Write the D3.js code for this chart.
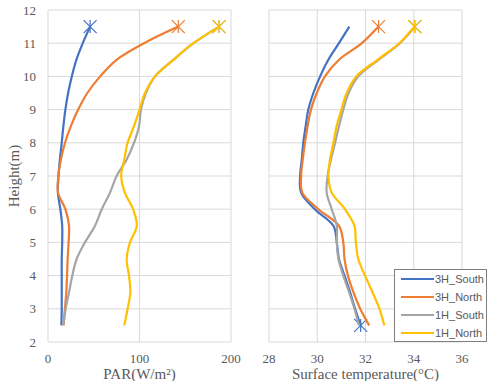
<!DOCTYPE html>
<html>
<head>
<meta charset="utf-8">
<script src="https://cdn.jsdelivr.net/npm/d3@7"></script>
<style>
body{margin:0;background:#fff;}
</style>
</head>
<body>
<script>
var w=488;
var h=381;

// heights (m)
var heights=[2.5,3,3.5,4,4.5,5,5.5,6,6.5,7,7.5,8,8.5,9,9.5,10,10.5,11,11.5];
var seriesNames=["3H_South","3H_North","1H_South","1H_North"];
var colors=["#4472C4","#ED7D31","#A5A5A5","#FFC000"];

// PAR (W/m2)
var parSouth3H=[14.6,15,15,15,15,15.5,15.5,13.5,10.8,11.5,13,15,16.8,19,22,26,31,38,46];
var parNorth3H=[17,18.5,20,20.8,21.5,22.5,23,19,11,11.3,14.2,18.6,25,33,43,57,75,105,142.4];
var parSouth1H=[16.8,19.3,23,26.6,31.3,40.4,51.4,58.7,67.8,75,86,94,99.5,101.6,107,117,137,159,187];
var parNorth1H=[83.4,87,90,88.5,86,89.6,97,93,84,80,83.4,87,94,100,106,117,137,159,187];

// surface temperature (C)
var tSouth3H=[31.8,31.57,31.36,31.13,30.9,30.81,30.67,29.9,29.33,29.29,29.36,29.42,29.52,29.63,29.84,30.12,30.46,30.9,31.33];
var tNorth3H=[32.15,31.78,31.5,31.27,31.13,31.08,30.9,30.05,29.38,29.33,29.4,29.49,29.6,29.74,29.98,30.32,30.9,31.85,32.54];
var tSouth1H=[31.73,31.54,31.32,31.08,30.88,30.81,30.81,30.6,30.39,30.43,30.57,30.74,30.9,31.08,31.3,31.7,32.54,33.43,34.05];
var tNorth1H=[32.78,32.58,32.29,31.98,31.7,31.6,31.54,31.15,30.6,30.46,30.53,30.67,30.8,31.0,31.22,31.62,32.5,33.4,34.03];

// height where each series carries its star marker
var parMarkers=[11.5,11.5,11.5,11.5];
var tMarkers=[2.5,11.5,11.5,11.5];

var yTicks=[2,3,4,5,6,7,8,9,10,11,12];
var parTicks=[0,100,200];
var tTicks=[28,30,32,34,36];

var svg=d3.select("body")
          .append("svg")
          .attr("width",w)
          .attr("height",h);

var y=d3.scaleLinear().domain([2,12]).range([342,10]);

function panel(x0,x1,domain,ticks,data,markers,title,showY){
  var x=d3.scaleLinear().domain(domain).range([x0,x1]);
  var g=svg.append("g");

  //grid
  g.selectAll(".hg").data(yTicks).enter().append("line")
    .attr("x1",x0).attr("x2",x1)
    .attr("y1",d=>y(d)).attr("y2",d=>y(d))
    .attr("stroke","#d9d9d9").attr("stroke-width",1);
  g.selectAll(".vg").data(ticks).enter().append("line")
    .attr("x1",d=>x(d)).attr("x2",d=>x(d))
    .attr("y1",y(2)).attr("y2",y(12))
    .attr("stroke","#d9d9d9").attr("stroke-width",1);

  //tick labels
  g.selectAll(".xt").data(ticks).enter().append("text")
    .attr("x",d=>x(d)).attr("y",363)
    .attr("text-anchor","middle")
    .style("font-family","Liberation Serif").style("font-size","13px")
    .attr("fill","#595959")
    .text(d=>d);
  if(showY){
    g.selectAll(".yt").data(yTicks).enter().append("text")
      .attr("x",36).attr("y",d=>y(d)+4.5)
      .attr("text-anchor","end")
      .style("font-family","Liberation Serif").style("font-size","13px")
      .attr("fill","#595959")
      .text(d=>d);
  }
  g.append("text")
    .attr("x",(x0+x1)/2).attr("y",379)
    .attr("text-anchor","middle")
    .style("font-family","Liberation Serif").style("font-size","15px")
    .attr("fill","#595959")
    .text(title);

  var line=d3.line()
    .x(d=>x(d[0])).y(d=>y(d[1]))
    .curve(d3.curveCatmullRom.alpha(0.5));

  data.forEach((vals,i)=>{
    var pts=vals.map((v,j)=>[v,heights[j]]);
    g.append("path")
      .attr("d",line(pts))
      .attr("fill","none")
      .attr("stroke",colors[i])
      .attr("stroke-width",2.2);
    var k=heights.indexOf(markers[i]);
    var cx=x(vals[k]), cy=y(heights[k]), s=6.5;
    g.append("path")
      .attr("d",`M${cx-s},${cy-s}L${cx+s},${cy+s}M${cx-s},${cy+s}L${cx+s},${cy-s}M${cx},${cy-s}L${cx},${cy+s}`)
      .attr("stroke",colors[i])
      .attr("stroke-width",1.2)
      .attr("fill","none");
  });
}

panel(48,231,[0,200],parTicks,[parSouth3H,parNorth3H,parSouth1H,parNorth1H],parMarkers,"PAR(W/m²)",true);
panel(269,462,[28,36],tTicks,[tSouth3H,tNorth3H,tSouth1H,tNorth1H],tMarkers,"Surface temperature(°C)",false);

//y title
svg.append("text")
  .attr("transform","translate(19,176) rotate(-90)")
  .attr("text-anchor","middle")
  .style("font-family","Liberation Serif").style("font-size","15px")
  .attr("fill","#595959")
  .text("Height(m)");

//legend
var lg=svg.append("g");
lg.append("rect")
  .attr("x",394.5).attr("y",269.5)
  .attr("width",92).attr("height",72)
  .attr("fill","#fff").attr("stroke","#7f7f7f").attr("stroke-width",1);
seriesNames.forEach((n,i)=>{
  var ly=279+i*18;
  lg.append("line")
    .attr("x1",401).attr("x2",434)
    .attr("y1",ly).attr("y2",ly)
    .attr("stroke",colors[i]).attr("stroke-width",2.2);
  lg.append("text")
    .attr("x",435).attr("y",ly+4)
    .style("font-family","Liberation Sans").style("font-size","11px")
    .attr("fill","#595959")
    .text(n);
});
</script>
</body>
</html>
